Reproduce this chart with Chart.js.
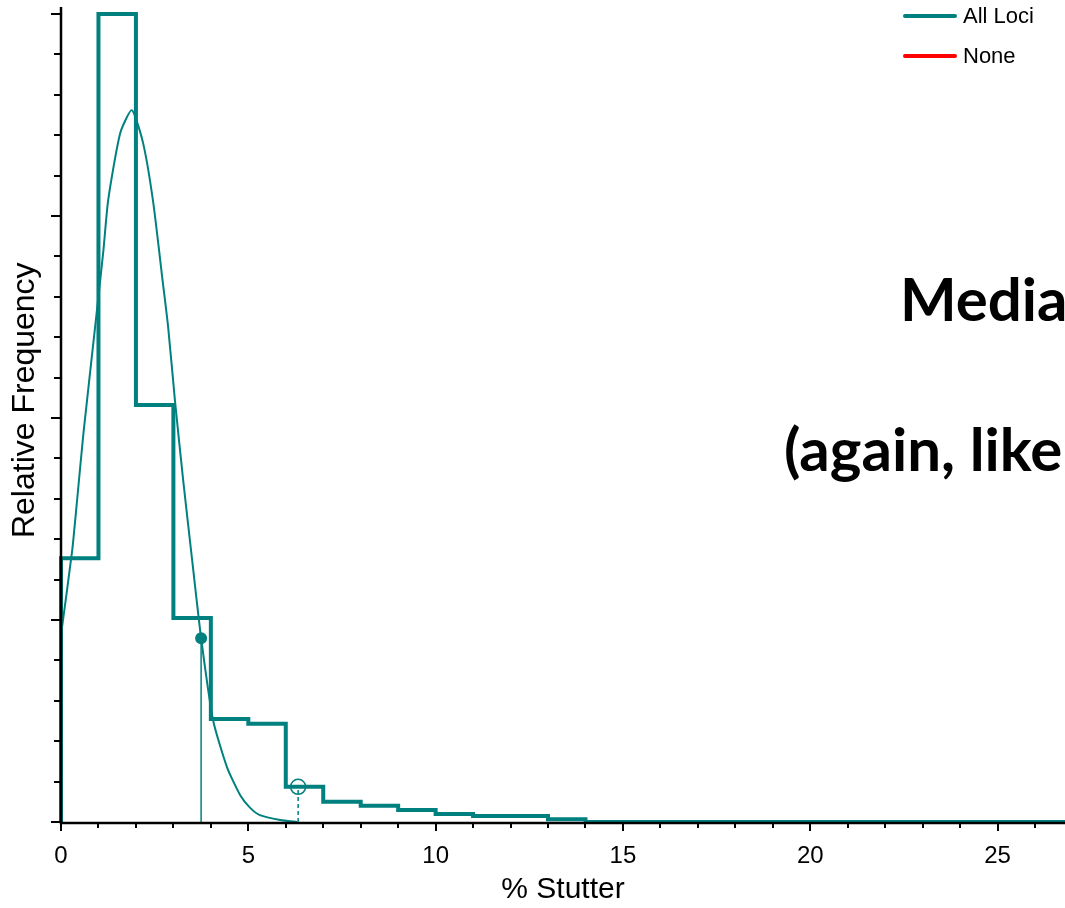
<!DOCTYPE html>
<html>
<head>
<meta charset="utf-8">
<script src="https://cdn.jsdelivr.net/npm/chart.js@4.4.1/dist/chart.umd.min.js"></script>
<style>
  html, body { margin: 0; padding: 0; background: #fff; }
  #wrap { position: relative; width: 1065px; height: 908px; overflow: hidden; }
  #chart { position: absolute; left: 0; top: 0; }
  .legend { position: absolute; left: 903px; font-family: "Liberation Sans", Arial, sans-serif; font-size: 22px; color: #000; }
  .legend span.line { position: absolute; left: 0; width: 54px; height: 4px; border-radius: 2px; }
  .legend span.txt { position: absolute; left: 60px; white-space: nowrap; }
  .slide { position: absolute; font-family: Lato, "Open Sans", sans-serif; font-weight: bold; font-size: 60px;
           line-height: 60px; white-space: nowrap; color: #000; }
</style>
</head>
<body>
<div id="wrap">
  <canvas id="chart" width="1065" height="908"></canvas>
  <div class="legend" style="top:14px"><span class="line" style="top:0;background:#00807f"></span><span class="txt" style="top:-11px">All Loci</span></div>
  <div class="legend" style="top:54px"><span class="line" style="top:0;background:#ff0000"></span><span class="txt" style="top:-11px">None</span></div>
  <div class="slide" style="left:900px;top:268px">Media</div>
  <div class="slide" style="left:784px;top:418px">(again, like</div>
</div>
<script>
// histogram of % stutter (bin edges and relative frequency per bin)
const binEdges = [0, 1, 2, 3, 4, 5, 6, 7, 8, 9, 10, 11, 12, 13, 14];
const binFreq = [6.53, 20, 10.32, 5.05, 2.55, 2.43, 0.87, 0.5, 0.4, 0.3, 0.2, 0.15, 0.15, 0.07];

// fitted density curve
const curveX = [0, 0.30, 0.43, 0.60, 0.91, 1.13, 1.26, 1.58, 1.89, 2.19, 2.46, 2.72, 2.86, 3.04, 3.26, 3.50, 3.74, 4.06, 4.43, 4.78, 5.05, 5.31, 5.85, 6.3];
const curveY = [4.63, 6.73, 7.97, 9.63, 12.25, 14.13, 15.4, 17.05, 17.62, 16.81, 15.35, 13.34, 12.25, 10.45, 8.47, 6.49, 4.55, 2.52, 1.36, 0.67, 0.35, 0.17, 0.05, 0];

// markers: filled = median of curve, hollow = other marker
const markerX = [3.74, 6.33];
const markerY = [4.55, 0.87];

const xMin = 0, xMax = 26.8;
const yMin = 0, yMax = 20;
const xTickLabels = [0, 5, 10, 15, 20, 25];

const teal = '#00807f';

// build step points for the histogram outline
const histPoints = [{x: binEdges[0], y: 0}];
binFreq.forEach((f, i) => histPoints.push({x: binEdges[i], y: f}));
histPoints.push({x: binEdges[binEdges.length - 1], y: 0});
histPoints.push({x: xMax, y: 0});

const curvePoints = curveX.map((x, i) => ({x: x, y: curveY[i]}));

// draws tick marks with major/minor lengths, plus the axis lines
const tickMarks = {
    id: 'tickMarks',
    afterDraw(chart) {
        const ctx = chart.ctx;
        const xs = chart.scales.x, ys = chart.scales.y;
        const area = chart.chartArea;
        ctx.save();
        ctx.strokeStyle = '#000';
        ctx.lineWidth = 2;
        ctx.beginPath();
        for (let v = Math.ceil(xMin); v <= xMax; v++) {
            const px = Math.round(xs.getPixelForValue(v));
            const len = xTickLabels.includes(v) ? 9 : 6;
            ctx.moveTo(px, area.bottom);
            ctx.lineTo(px, area.bottom + len);
        }
        for (let v = yMin; v <= yMax; v++) {
            const py = Math.round(ys.getPixelForValue(v));
            const len = v % 5 === 0 ? 10 : 7;
            ctx.moveTo(area.left, py);
            ctx.lineTo(area.left - len, py);
        }
        ctx.stroke();
        ctx.lineWidth = 2.5;
        ctx.beginPath();
        ctx.moveTo(area.left, area.top - 7);
        ctx.lineTo(area.left, area.bottom + 1);
        ctx.lineTo(area.right, area.bottom + 1);
        ctx.stroke();
        ctx.restore();
    }
};

new Chart(document.getElementById('chart'), {
    type: 'line',
    data: {
        datasets: [
            {
                label: 'median line',
                data: [{x: markerX[0], y: 0}, {x: markerX[0], y: markerY[0]}],
                borderColor: teal,
                borderWidth: 1.5,
                pointRadius: 0
            },
            {
                label: 'marker line',
                data: [{x: markerX[1], y: 0}, {x: markerX[1], y: markerY[1]}],
                borderColor: teal,
                borderWidth: 1.5,
                borderDash: [4, 3],
                pointRadius: 0
            },
            {
                label: 'curve',
                data: curvePoints,
                borderColor: teal,
                borderWidth: 2,
                pointRadius: 0,
                tension: 0.2
            },
            {
                label: 'All Loci',
                data: histPoints,
                borderColor: teal,
                borderWidth: 4,
                pointRadius: 0,
                stepped: 'before',
                clip: 6
            },
            {
                label: 'None',
                data: [],
                borderColor: '#ff0000',
                borderWidth: 4,
                pointRadius: 0
            },
            {
                label: 'markers',
                data: [{x: markerX[0], y: markerY[0]}, {x: markerX[1], y: markerY[1]}],
                showLine: false,
                pointRadius: [7, 7.5],
                pointBackgroundColor: [teal, '#ffffff'],
                pointBorderColor: ['#ffffff', teal],
                pointBorderWidth: [2, 1.5],
                clip: 10
            }
        ]
    },
    options: {
        responsive: false,
        animation: false,
        devicePixelRatio: 1,
        layout: {
            autoPadding: false,
            padding: {top: 14, right: 0, left: 0, bottom: 0}
        },
        scales: {
            x: {
                type: 'linear',
                min: xMin,
                max: xMax,
                afterFit: scale => {
                    scale.height = 86;
                    scale.paddingLeft = 0;
                    scale.paddingRight = 0;
                },
                afterBuildTicks: scale => { scale.ticks = xTickLabels.map(v => ({value: v})); },
                grid: {display: false, drawTicks: false},
                border: {display: false},
                ticks: {
                    padding: 20,
                    color: '#000',
                    font: {family: '"Liberation Sans", Arial, sans-serif', size: 24}
                },
                title: {
                    display: true,
                    text: '% Stutter',
                    color: '#000',
                    padding: {top: 0, bottom: 0},
                    font: {family: '"Liberation Sans", Arial, sans-serif', size: 30}
                }
            },
            y: {
                type: 'linear',
                min: yMin,
                max: yMax,
                afterFit: scale => {
                    scale.width = 61;
                    scale.paddingTop = 0;
                    scale.paddingBottom = 0;
                },
                grid: {display: false, drawTicks: false},
                border: {display: false},
                ticks: {display: false, stepSize: 1},
                title: {
                    display: true,
                    text: '\u00a0\u00a0\u00a0\u00a0Relative Frequency',
                    color: '#000',
                    padding: {top: 6, bottom: 0},
                    font: {family: '"Liberation Sans", Arial, sans-serif', size: 32}
                }
            }
        },
        plugins: {
            legend: {display: false},
            tooltip: {enabled: false}
        }
    },
    plugins: [tickMarks]
});
</script>
</body>
</html>
